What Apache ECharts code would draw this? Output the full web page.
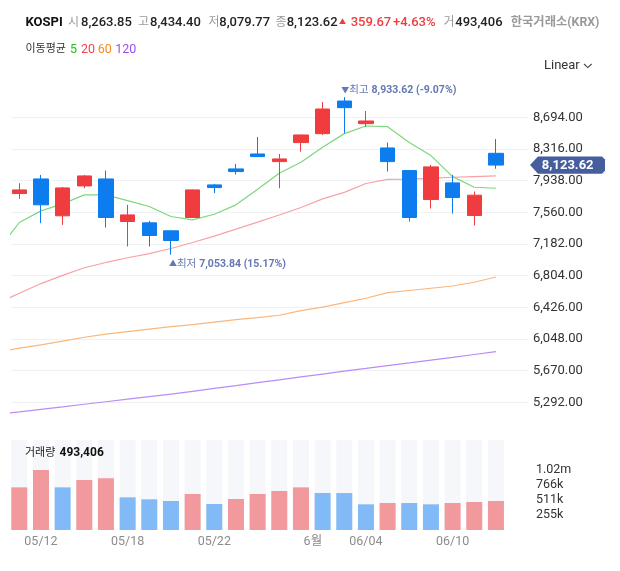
<!DOCTYPE html>
<html>
<head>
<meta charset="utf-8">
<script src="https://cdn.jsdelivr.net/npm/echarts@6/dist/echarts.min.js"></script>
<style>
  html, body { margin: 0; padding: 0; background: #fff; }
  #chart { width: 620px; height: 571px; }
</style>
</head>
<body>
<div id="chart"></div>
<script>
// trading days (index 0..22)
const dates = ['05/11', '05/12', '05/13', '05/14', '05/15', '05/18', '05/19', '05/20', '05/21', '05/22', '05/26', '05/27',
  '05/28', '05/29', '06/01', '06/02', '06/04', '06/05', '06/08', '06/09', '06/10', '06/11', '06/12'];

const openP = [7784, 7958, 7518, 7875, 7958, 7450, 7434, 7339, 7498, 7887, 8078, 8256,
  8165, 8392, 8499, 8888, 8618, 8328, 8058, 7712, 7911, 7522, 8263.85];
const closeP = [7827, 7649, 7851, 7994, 7498, 7529, 7283, 7223, 7827, 7855, 8046, 8225,
  8197, 8483, 8793, 8809, 8650, 8165, 7498, 8102, 7736, 7763.95, 8123.62];
const lowP = [7720, 7430, 7410, 7847, 7378, 7152, 7152, 7053.84, 7495, 7788, 8010, 8220,
  7847, 8284, 8483, 8503, 8582, 8046, 7450, 7605, 7545, 7402, 8079.77];
const highP = [7907, 8006, 7863, 8006, 8058, 7649, 7458, 7342, 7830, 7899, 8137, 8459,
  8256, 8485, 8876, 8933.62, 8769, 8392, 8060, 8126, 8006, 7808, 8434.40];

const volume = [726000, 1021000, 726000, 851000, 879000, 556000, 522000, 494000, 613000, 443000, 528000, 613000,
  664000, 726000, 630000, 629000, 437000, 460000, 459000, 437000, 460000, 477000, 493406];

// moving averages, first value is the day before 05/11 (cut by the left edge)
const ma5 = [7106, 7438, 7577, 7661, 7768, 7768, 7700, 7629, 7510, 7470, 7537, 7649, 7835,
  8026, 8157, 8337, 8499, 8590, 8582, 8392, 8237, 7986, 7859, 7847];
const ma20 = [6475, 6594, 6709, 6807, 6898, 6961, 7017, 7067, 7128, 7199, 7275, 7359, 7442,
  7527, 7617, 7720, 7798, 7904, 7953, 7955, 7964, 7978, 7986, 7994];
const ma60 = [5891, 5938, 5977, 6022, 6068, 6105, 6135, 6165, 6194, 6218, 6248, 6278, 6302,
  6331, 6385, 6427, 6481, 6534, 6600, 6626, 6653, 6680, 6725, 6787];
const ma120 = [5149, 5177, 5207, 5237, 5268, 5298, 5329, 5360, 5390, 5422, 5457, 5491, 5526,
  5560, 5595, 5629, 5663, 5696, 5730, 5762, 5795, 5828, 5862, 5896];

// x axis labels (position in day index) and price / volume axis steps
const xTickPos = [1, 5, 9, 13.55, 16, 20];
const xTickText = ['05/12', '05/18', '05/22', '6월', '06/04', '06/10'];
const priceStep = 378;
const volStep = 255352;

const FONT = "Roboto, 'Noto Sans CJK KR', sans-serif";
const UP = '#f03c3f';
const DOWN = '#0d7cee';

function fmt(n, d) {
  const parts = n.toFixed(d).split('.');
  parts[0] = parts[0].replace(/\B(?=(\d{3})+(?!\d))/g, ',');
  return parts.join('.');
}

const last = dates.length - 1;
const lastClose = closeP[last];
const change = closeP[last] - closeP[last - 1];
const changePct = change / closeP[last - 1] * 100;

const candles = dates.map((d, i) => [i, openP[i], closeP[i], lowP[i], highP[i]]);
const volBars = volume.map((v, i) => ({
  value: [i, v],
  itemStyle: {color: (i === 0 || v > volume[i - 1]) ? '#f1999c' : '#82b9f7'}
}));
const maData = arr => arr.map((v, k) => [k - 1, v]);

const chart = echarts.init(document.getElementById('chart'));

function markLabel(isMax) {
  return {
    type: isMax ? 'max' : 'min',
    valueDim: isMax ? 'highest' : 'lowest',
    symbol: 'circle',
    symbolSize: 1,
    itemStyle: {color: 'rgba(0,0,0,0)'},
    label: {
      show: true,
      position: isMax ? 'top' : 'bottom',
      distance: isMax ? 0 : 3,
      align: 'left',
      offset: [isMax ? -3 : -2, 0],
      formatter: p => {
        const pct = (lastClose - p.value) / p.value * 100;
        return '{t|' + (isMax ? '▼' : '▲') + '}{k|' + (isMax ? '최고' : '최저') + '} {b|' +
          fmt(p.value, 2) + ' (' + pct.toFixed(2) + '%)}';
      },
      rich: {
        t: {fontSize: 8, color: '#6479b2', fontFamily: FONT},
        k: {fontSize: 10.5, color: '#6479b2', fontFamily: FONT},
        b: {fontSize: 10.5, color: '#6479b2', fontWeight: 'bold', fontFamily: FONT}
      }
    }
  };
}

function txt(id, x, y, text, size, color, weight) {
  return {
    type: 'text', id: id, x: x, y: y, silent: true, z: 100,
    style: {
      text: text, fill: color, fontSize: size, fontWeight: weight || 'normal', fontFamily: FONT,
      align: 'left', verticalAlign: 'middle', textAlign: 'left', textVerticalAlign: 'middle'
    }
  };
}

const headerEls = [
  txt('h0', 25.5, 22.5, 'KOSPI', 13, '#111', 'bold'),
  txt('h1', 68, 22.5, '시', 12, '#9a9a9a'),
  txt('h2', 81, 22.5, fmt(openP[last], 2), 13, '#222', 500),
  txt('h3', 138, 22.5, '고', 12, '#9a9a9a'),
  txt('h4', 150, 22.5, fmt(highP[last], 2), 13, '#222', 500),
  txt('h5', 208.5, 22.5, '저', 12, '#9a9a9a'),
  txt('h6', 219.3, 22.5, fmt(lowP[last], 2), 13, '#222', 500),
  txt('h7', 275.5, 22.5, '종', 12, '#9a9a9a'),
  txt('h8', 286.7, 22.5, fmt(closeP[last], 2), 13, '#222', 500),
  txt('h9', 339, 22, '▲', 7, UP),
  txt('h10', 350.7, 22.5, fmt(change, 2), 13, UP, 500),
  txt('h11', 393, 22.5, '+' + changePct.toFixed(2) + '%', 13, UP, 500),
  txt('h12', 443.5, 22.5, '거', 12, '#9a9a9a'),
  txt('h13', 455.3, 22.5, fmt(volume[last], 0), 13, '#222', 500),
  txt('h14', 510.7, 22.5, '한국거래소(KRX)', 12.3, '#999', 'bold'),
  txt('m0', 25.5, 49.5, '이동평균', 11, '#333'),
  txt('m1', 70, 49.5, '5', 12.5, '#22c021'),
  txt('m2', 81, 49.5, '20', 12.5, '#f4424d'),
  txt('m3', 97.7, 49.5, '60', 12.5, '#f48a1e'),
  txt('m4', 115.3, 49.5, '120', 12.5, '#9a50f1'),
  txt('lin', 544, 65.5, 'Linear', 13, '#333'),
  {
    type: 'polyline', id: 'chev', silent: true, z: 100,
    shape: {points: [[584, 64], [587.8, 67.6], [591.6, 64]]},
    style: {stroke: '#444', lineWidth: 1.1, fill: null}
  },
  txt('v0', 25, 453, '거래량', 11, '#222'),
  txt('v1', 59.5, 453, fmt(volume[last], 0), 12, '#111', 'bold')
];

const xMin = -0.383;
const xMax = 23.48;

chart.setOption({
  animation: false,
  textStyle: {fontFamily: FONT},
  grid: [
    {left: 11, right: 92, top: 85.63, height: 348.3, outerBoundsMode: 'none'},
    {left: 11, right: 92, top: 440, height: 90, outerBoundsMode: 'none'}
  ],
  xAxis: [
    {type: 'value', gridIndex: 0, min: xMin, max: xMax, show: false},
    {
      type: 'value', gridIndex: 1, min: xMin, max: xMax,
      axisLine: {show: false}, axisTick: {show: false}, splitLine: {show: false},
      axisLabel: {
        customValues: xTickPos,
        formatter: v => xTickText[xTickPos.indexOf(v)] || '',
        color: '#8c8c8c', fontSize: 12.5, margin: 6, fontFamily: FONT
      }
    }
  ],
  yAxis: [
    {
      type: 'value', gridIndex: 0, position: 'right',
      min: priceStep * 13, max: priceStep * 24, interval: priceStep,
      axisLine: {show: false}, axisTick: {show: false},
      splitLine: {show: true, showMinLine: false, showMaxLine: false, lineStyle: {color: '#eff1f5', width: 1}},
      axisLabel: {
        showMinLabel: false, showMaxLabel: false, margin: 5,
        color: '#333', fontSize: 13, fontFamily: FONT,
        formatter: v => fmt(v, 2)
      }
    },
    {
      type: 'value', gridIndex: 1, position: 'right',
      min: 0, max: volStep * 6, interval: volStep,
      axisLine: {show: false}, axisTick: {show: false}, splitLine: {show: false},
      axisLabel: {
        showMinLabel: false, showMaxLabel: false, margin: 8,
        color: '#333', fontSize: 12.5, fontFamily: FONT,
        formatter: v => {
          if (v <= 0 || v > volStep * 4.5) return '';
          return v >= 1e6 ? (v / 1e6).toFixed(2) + 'm' : Math.round(v / 1000) + 'k';
        }
      }
    }
  ],
  series: [
    {
      type: 'line', name: 'MA120', xAxisIndex: 0, yAxisIndex: 0, data: maData(ma120),
      symbol: 'none', lineStyle: {color: '#b98cf6', width: 1.2}, z: 2
    },
    {
      type: 'line', name: 'MA60', xAxisIndex: 0, yAxisIndex: 0, data: maData(ma60),
      symbol: 'none', lineStyle: {color: '#fab67c', width: 1.2}, z: 2
    },
    {
      type: 'line', name: 'MA20', xAxisIndex: 0, yAxisIndex: 0, data: maData(ma20),
      symbol: 'none', lineStyle: {color: '#f8a2a7', width: 1.2}, z: 2
    },
    {
      type: 'line', name: 'MA5', xAxisIndex: 0, yAxisIndex: 0, data: maData(ma5),
      symbol: 'none', lineStyle: {color: '#7dd77d', width: 1.2}, z: 2
    },
    {
      type: 'candlestick', name: 'KOSPI', xAxisIndex: 0, yAxisIndex: 0,
      data: candles, barWidth: 15, z: 3,
      itemStyle: {color: UP, color0: DOWN, borderColor: UP, borderColor0: DOWN, borderWidth: 1},
      markPoint: {data: [markLabel(true), markLabel(false)], animation: false}
    },
    {
      type: 'bar', name: '거래량', xAxisIndex: 1, yAxisIndex: 1,
      data: volBars, barWidth: 16,
      showBackground: true, backgroundStyle: {color: '#f6f7fb'}
    }
  ],
  graphic: {elements: headerEls}
});

// price tag for the last close, placed through the price axis
const py = chart.convertToPixel({yAxisIndex: 0}, lastClose);
const tagText = txt('tagT', 567.7, py + 0.5, fmt(lastClose, 2), 13, '#fff', 'bold');
tagText.z = 110;
tagText.style.align = 'center';
tagText.style.textAlign = 'center';
chart.setOption({
  graphic: {
    elements: headerEls.concat([
      {
        type: 'polygon', id: 'tag', silent: true, z: 105,
        shape: {points: [[530, py], [538, py - 8.6], [602, py - 8.6], [605, py - 5.6], [605, py + 5.6], [602, py + 8.6], [538, py + 8.6]]},
        style: {fill: '#465e9e'}
      },
      tagText
    ])
  }
});
</script>
</body>
</html>
